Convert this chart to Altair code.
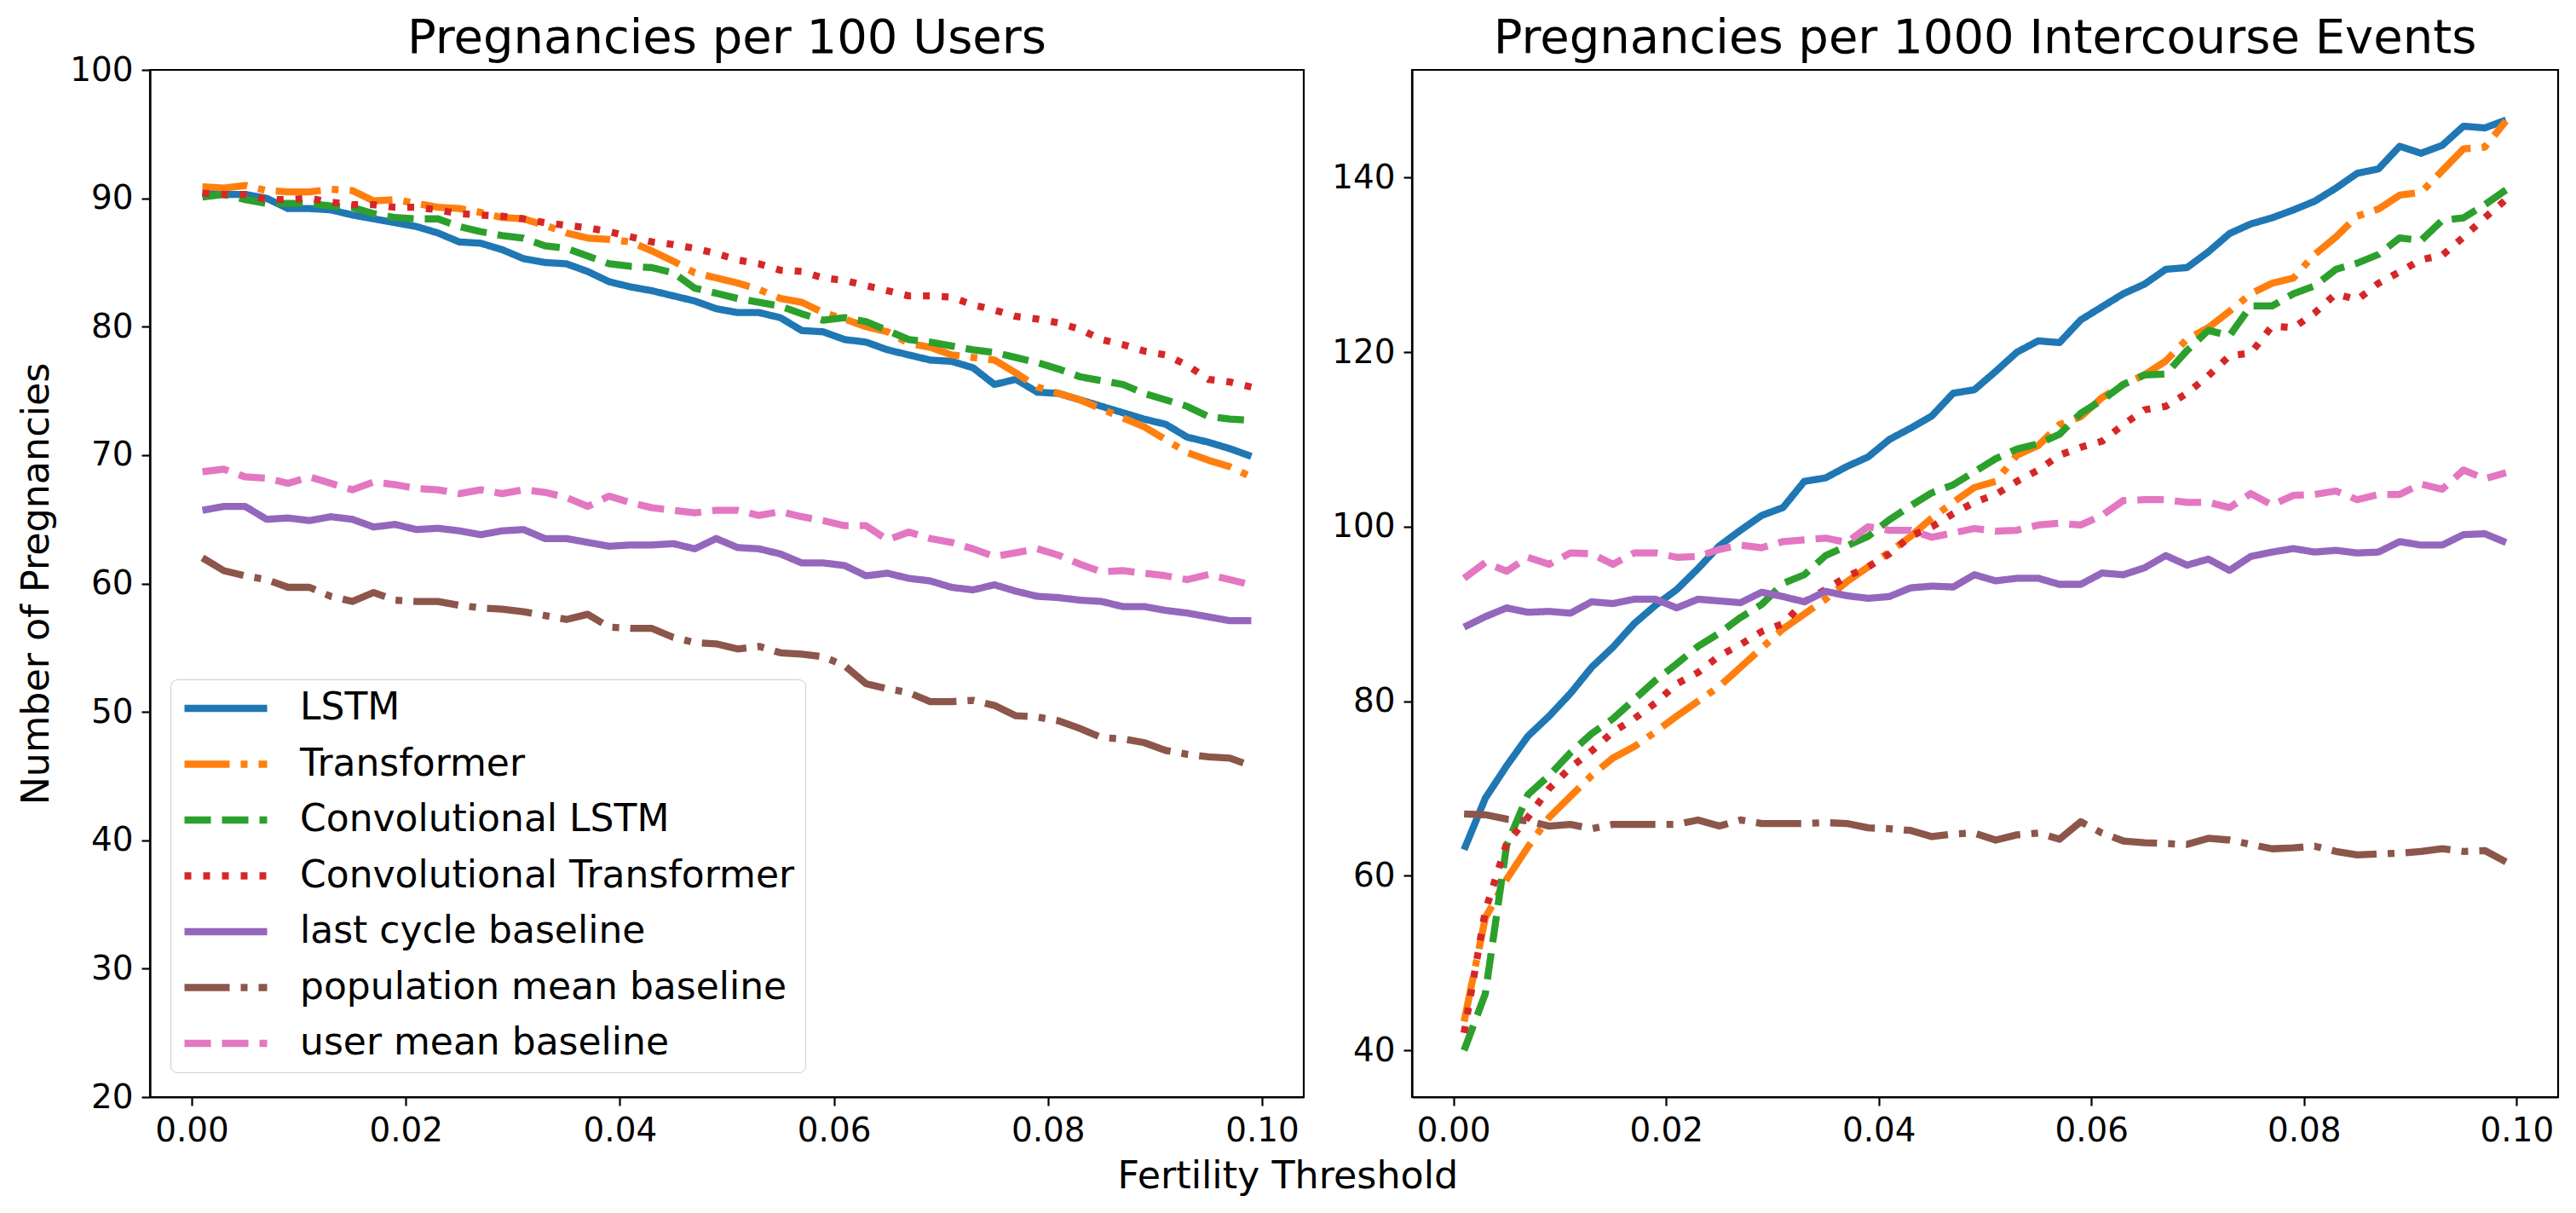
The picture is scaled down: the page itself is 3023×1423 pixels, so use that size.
import altair as alt
import numpy as np
import pandas as pd

# fertility thresholds shared by every series
THRESHOLDS = np.round(np.arange(0.001, 0.1, 0.002), 3)

MODELS = [
    "LSTM",
    "Transformer",
    "Convolutional LSTM",
    "Convolutional Transformer",
    "last cycle baseline",
    "population mean baseline",
    "user mean baseline",
]
COLORS = ["#1f77b4", "#ff7f0e", "#2ca02c", "#d62728", "#9467bd", "#8c564b", "#e377c2"]
DASHES = [[1, 0], [53, 13, 8, 13], [31, 13], [8, 14], [1, 0], [53, 13, 8, 13], [31, 13]]

# pregnancies per 100 users
LSTM_USERS = [90.4, 90.3, 90.3, 90.0, 89.2, 89.2, 89.1, 88.7, 88.4, 88.1,
              87.8, 87.3, 86.6, 86.5, 86.0, 85.3, 85.0, 84.9, 84.3, 83.5,
              83.1, 82.8, 82.4, 82.0, 81.4, 81.1, 81.1, 80.7, 79.7, 79.6,
              79.0, 78.8, 78.2, 77.8, 77.4, 77.3, 76.8, 75.5, 75.9, 74.9,
              74.8, 74.3, 73.8, 73.3, 72.8, 72.4, 71.4, 71.0, 70.5, 69.9]
TRANS_USERS = [90.9, 90.8, 91.0, 90.6, 90.5, 90.5, 90.7, 90.6, 89.8, 89.9,
               89.6, 89.3, 89.2, 88.9, 88.5, 88.4, 87.9, 87.3, 86.9, 86.8,
               86.6, 85.9, 85.1, 84.2, 83.8, 83.4, 82.9, 82.2, 81.9, 81.1,
               80.6, 80.0, 79.6, 78.7, 78.4, 77.8, 77.6, 77.4, 76.4, 75.3,
               74.8, 74.3, 73.6, 72.9, 72.2, 71.2, 70.2, 69.6, 69.1, 68.3]
CLSTM_USERS = [90.1, 90.3, 89.9, 89.6, 89.6, 89.6, 89.4, 89.3, 88.8, 88.5,
               88.4, 88.4, 87.8, 87.4, 87.1, 86.9, 86.3, 86.1, 85.5, 84.9,
               84.7, 84.6, 84.2, 83.0, 82.6, 82.2, 81.9, 81.6, 81.0, 80.5,
               80.7, 80.4, 79.7, 79.0, 78.8, 78.5, 78.2, 78.0, 77.6, 77.2,
               76.7, 76.1, 75.8, 75.5, 74.8, 74.3, 73.8, 73.0, 72.8, 72.7]
CTRANS_USERS = [90.4, 90.3, 90.3, 89.9, 89.9, 90.0, 89.7, 89.5, 89.5, 89.3,
                89.3, 89.1, 88.8, 88.7, 88.6, 88.4, 88.1, 87.9, 87.7, 87.4,
                87.0, 86.6, 86.4, 86.1, 85.7, 85.2, 84.9, 84.4, 84.3, 83.8,
                83.6, 83.2, 82.8, 82.4, 82.4, 82.3, 81.7, 81.3, 80.8, 80.6,
                80.3, 79.8, 79.0, 78.6, 78.1, 77.8, 77.0, 75.9, 75.7, 75.3]
LAST_USERS = [65.7, 66.0, 66.0, 65.0, 65.1, 64.9, 65.2, 65.0, 64.4, 64.6,
              64.2, 64.3, 64.1, 63.8, 64.1, 64.2, 63.5, 63.5, 63.2, 62.9,
              63.0, 63.0, 63.1, 62.7, 63.5, 62.8, 62.7, 62.3, 61.6, 61.6,
              61.4, 60.6, 60.8, 60.4, 60.2, 59.7, 59.5, 59.9, 59.4, 59.0,
              58.9, 58.7, 58.6, 58.2, 58.2, 57.9, 57.7, 57.4, 57.1, 57.1]
POP_USERS = [62.0, 61.0, 60.6, 60.3, 59.7, 59.7, 59.0, 58.6, 59.3, 58.7,
             58.6, 58.6, 58.3, 58.1, 58.0, 57.8, 57.5, 57.2, 57.6, 56.6,
             56.5, 56.5, 55.8, 55.4, 55.3, 54.9, 55.1, 54.6, 54.5, 54.3,
             53.6, 52.2, 51.8, 51.5, 50.8, 50.8, 50.9, 50.5, 49.7, 49.6,
             49.3, 48.7, 48.0, 47.9, 47.6, 47.0, 46.7, 46.5, 46.4, 45.8]
USERMEAN_USERS = [68.7, 68.9, 68.3, 68.2, 67.8, 68.3, 67.8, 67.3, 67.9, 67.7,
                  67.4, 67.3, 67.0, 67.3, 67.0, 67.3, 67.1, 66.7, 66.0, 66.8,
                  66.3, 65.9, 65.7, 65.5, 65.7, 65.7, 65.3, 65.6, 65.2, 64.9,
                  64.5, 64.5, 63.4, 64.0, 63.5, 63.2, 62.7, 62.1, 62.4, 62.7,
                  62.2, 61.5, 60.9, 61.0, 60.8, 60.6, 60.3, 60.7, 60.3, 59.9]

# pregnancies per 1000 intercourse events
LSTM_EVENTS = [63.0, 68.9, 72.6, 76.0, 78.3, 80.9, 83.9, 86.2, 88.9, 91.0,
               92.8, 95.2, 97.8, 99.6, 101.3, 102.2, 105.2, 105.6, 106.9, 108.0,
               110.0, 111.3, 112.7, 115.3, 115.7, 117.8, 120.0, 121.3, 121.1, 123.7,
               125.2, 126.7, 127.8, 129.5, 129.7, 131.5, 133.6, 134.7, 135.4, 136.3,
               137.3, 138.8, 140.5, 141.0, 143.6, 142.8, 143.7, 145.9, 145.7, 146.6]
TRANS_EVENTS = [43.3, 55.2, 59.6, 63.3, 66.7, 69.1, 71.5, 73.5, 74.8, 76.5,
                78.3, 80.0, 81.7, 83.9, 86.1, 88.3, 90.0, 91.7, 93.7, 95.4,
                97.1, 98.9, 101.0, 102.8, 104.5, 105.2, 108.2, 109.3, 111.7, 112.6,
                114.8, 116.3, 117.4, 119.0, 121.5, 122.8, 124.7, 126.7, 127.9, 128.5,
                131.2, 133.2, 135.6, 136.4, 138.0, 138.3, 140.8, 143.3, 143.5, 146.5]
CLSTM_EVENTS = [40.0, 46.5, 63.5, 69.3, 71.5, 74.1, 76.3, 78.0, 80.2, 82.4,
                84.3, 86.3, 87.8, 89.6, 91.1, 93.5, 94.5, 96.7, 97.8, 98.9,
                100.8, 102.4, 103.9, 104.8, 106.3, 107.8, 108.9, 109.5, 110.6, 113.0,
                114.5, 116.3, 117.4, 117.5, 120.2, 122.5, 121.9, 125.3, 125.3, 126.7,
                127.6, 129.5, 130.2, 131.2, 133.1, 132.8, 135.1, 135.4, 136.9, 138.6]
CTRANS_EVENTS = [42.0, 56.0, 63.7, 66.7, 70.0, 72.4, 74.3, 76.5, 78.0, 79.8,
                 82.0, 83.3, 85.2, 86.5, 88.0, 88.9, 91.4, 92.8, 94.3, 95.4,
                 96.9, 98.9, 100.0, 101.5, 102.8, 103.7, 105.2, 106.5, 108.2, 109.1,
                 109.8, 111.7, 113.4, 113.8, 115.3, 117.3, 119.6, 119.9, 123.0, 122.8,
                 124.5, 126.7, 126.0, 127.9, 129.2, 130.6, 131.1, 133.2, 135.4, 137.5]
LAST_EVENTS = [88.5, 89.7, 90.7, 90.2, 90.3, 90.1, 91.4, 91.2, 91.7, 91.7,
               90.7, 91.7, 91.5, 91.3, 92.5, 92.0, 91.4, 92.6, 92.1, 91.8,
               92.0, 93.0, 93.2, 93.1, 94.5, 93.8, 94.1, 94.1, 93.4, 93.4,
               94.7, 94.5, 95.3, 96.7, 95.6, 96.3, 95.0, 96.6, 97.1, 97.5,
               97.1, 97.3, 97.0, 97.1, 98.3, 97.9, 97.9, 99.1, 99.2, 98.2]
POP_EVENTS = [67.1, 67.0, 66.5, 66.3, 65.7, 65.9, 65.4, 65.9, 65.9, 65.9,
              65.9, 66.4, 65.7, 66.4, 66.0, 66.0, 66.0, 66.1, 66.0, 65.5,
              65.4, 65.2, 64.5, 64.8, 64.9, 64.1, 64.7, 64.9, 64.2, 66.2,
              64.9, 64.0, 63.8, 63.7, 63.6, 64.3, 64.1, 63.6, 63.1, 63.2,
              63.4, 62.8, 62.4, 62.5, 62.6, 62.8, 63.1, 62.8, 62.9, 61.6]
USERMEAN_EVENTS = [94.1, 95.9, 94.9, 96.5, 95.7, 97.0, 96.9, 95.7, 97.0, 97.0,
                   96.5, 96.6, 97.4, 97.9, 97.6, 98.3, 98.5, 98.7, 98.2, 100.0,
                   99.6, 99.6, 98.8, 99.3, 99.8, 99.5, 99.6, 100.2, 100.4, 100.2,
                   101.3, 103.0, 103.1, 103.1, 102.8, 102.8, 102.2, 103.8, 102.5, 103.6,
                   103.7, 104.1, 103.1, 103.7, 103.7, 104.9, 104.3, 106.5, 105.5, 106.2]

FONT = "DejaVu Sans"


def long_frame(series):
    rows = []
    for model, values in zip(MODELS, series):
        for t, v in zip(THRESHOLDS, values):
            rows.append({"model": model, "threshold": float(t), "value": v})
    return pd.DataFrame(rows)


def panel(series, title, title_offset, y_domain, y_ticks, y_title, legend, width):
    color_scale = alt.Scale(domain=MODELS, range=COLORS)
    dash_scale = alt.Scale(domain=MODELS, range=DASHES)
    y_axis = alt.Axis(values=y_ticks, labelFlush=False, title=y_title, titlePadding=16)
    return (
        alt.Chart(long_frame(series))
        .mark_line(strokeWidth=8.3, strokeJoin="round")
        .encode(
            x=alt.X(
                "threshold:Q",
                scale=alt.Scale(domain=[-0.0039, 0.1039], nice=False, zero=False),
                axis=alt.Axis(values=[0, 0.02, 0.04, 0.06, 0.08, 0.1], format=".2f",
                              labelFlush=False, title=None),
            ),
            y=alt.Y("value:Q", scale=alt.Scale(domain=y_domain, nice=False, zero=False),
                    axis=y_axis),
            color=alt.Color("model:N", scale=color_scale, legend=legend),
            strokeDash=alt.StrokeDash("model:N", scale=dash_scale, legend=legend),
        )
        .properties(
            width=width,
            height=1205,
            title=alt.TitleParams(title, font=FONT, fontSize=56, fontWeight="normal",
                                  color="black", anchor="middle", frame="group",
                                  offset=title_offset),
        )
    )


legend = alt.Legend(
    title=None, orient="none", legendX=24, legendY=715,
    symbolType="stroke", symbolSize=9409, symbolStrokeWidth=8.3,
    labelFont=FONT, labelFontSize=44, labelColor="black", labelLimit=1200,
    labelOffset=34, rowPadding=21.5, padding=12, clipHeight=44,
    fillColor="rgba(255,255,255,0.8)", strokeColor="#cccccc", cornerRadius=8,
)

# the left title sits above the overhanging "100" label, so it gets a smaller offset
left = panel(
    [LSTM_USERS, TRANS_USERS, CLSTM_USERS, CTRANS_USERS, LAST_USERS, POP_USERS, USERMEAN_USERS],
    "Pregnancies per 100 Users", -11, [20, 100], list(range(20, 101, 10)),
    "Number of Pregnancies", legend, 1354,
)
right = panel(
    [LSTM_EVENTS, TRANS_EVENTS, CLSTM_EVENTS, CTRANS_EVENTS, LAST_EVENTS, POP_EVENTS, USERMEAN_EVENTS],
    "Pregnancies per 1000 Intercourse Events", 8, [34.65, 152.35], list(range(40, 141, 20)),
    None, None, 1345,
)

chart = (
    alt.hconcat(left, right, spacing=29)
    .resolve_scale(color="independent", strokeDash="independent")
    .resolve_legend(color="independent", strokeDash="independent")
    .properties(
        title=alt.TitleParams("Fertility Threshold", orient="bottom", anchor="middle",
                              font=FONT, fontSize=44.4, fontWeight="normal",
                              color="black", offset=12),
        padding={"left": 11, "top": 7, "right": 10, "bottom": 2},
    )
    .configure_axis(
        labelFont=FONT, labelFontSize=38.9, labelColor="black", labelPadding=10,
        titleFont=FONT, titleFontSize=44.4, titleFontWeight="normal", titleColor="black",
        tickColor="black", tickSize=10, tickWidth=2.2,
        domainColor="black", domainWidth=2.2, grid=False,
    )
    .configure_view(stroke="black", strokeWidth=2.2)
)

chart.save("out.html", embed_options={"renderer": "svg", "actions": False})
